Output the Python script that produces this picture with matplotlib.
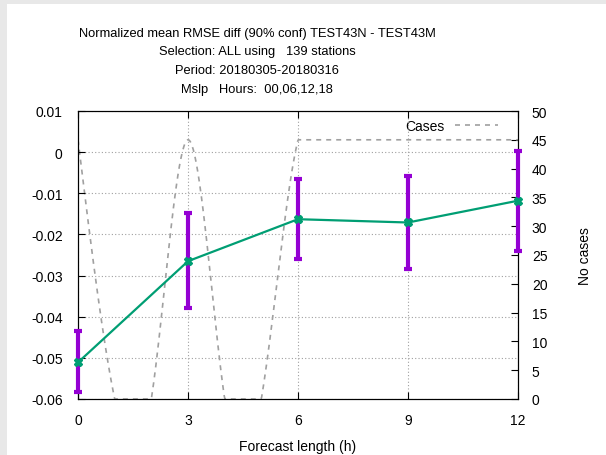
import numpy as np
import matplotlib
matplotlib.use("Agg")
import matplotlib.pyplot as plt
from matplotlib.patches import Rectangle

# forecast lengths and normalized RMSE difference with 90% confidence limits
fc_len = [0, 3, 6, 9, 12]
rmse_diff = [-0.0511, -0.0265, -0.0163, -0.0171, -0.0118]
conf_low = [-0.0584, -0.0379, -0.0260, -0.0284, -0.0240]
conf_high = [-0.0434, -0.0148, -0.0065, -0.0059, 0.0003]

# number of cases per forecast hour
case_hours = [0, 1, 2, 3, 4, 5, 6, 7, 8, 9, 10, 11, 12]
cases = [45, 0, 0, 45, 0, 0, 45, 45, 45, 45, 45, 45, 45]

title_lines = ["Normalized mean RMSE diff (90% conf) TEST43N - TEST43M",
               "Selection: ALL using   139 stations",
               "Period: 20180305-20180316",
               "Mslp   Hours:  00,06,12,18"]

PURPLE = "#9400d3"
GREEN = "#009e73"
GREY = "#a0a0a0"


def natural_spline(x, y, n=600):
    # natural cubic spline, like gnuplot's "smooth csplines";
    # segments between equal values are kept flat
    x = np.asarray(x, float)
    y = np.asarray(y, float)
    k = len(x)
    h = np.diff(x)
    A = np.zeros((k, k))
    b = np.zeros(k)
    A[0, 0] = A[-1, -1] = 1
    for i in range(1, k - 1):
        A[i, i - 1] = h[i - 1]
        A[i, i] = 2 * (h[i - 1] + h[i])
        A[i, i + 1] = h[i]
        b[i] = 6 * ((y[i + 1] - y[i]) / h[i] - (y[i] - y[i - 1]) / h[i - 1])
    m = np.linalg.solve(A, b)
    xs = np.linspace(x[0], x[-1], n)
    idx = np.clip(np.searchsorted(x, xs) - 1, 0, k - 2)
    x0, x1 = x[idx], x[idx + 1]
    hh = x1 - x0
    t0, t1 = x1 - xs, xs - x0
    ys = (m[idx] * t0 ** 3 + m[idx + 1] * t1 ** 3) / (6 * hh) \
        + (y[idx] / hh - m[idx] * hh / 6) * t0 \
        + (y[idx + 1] / hh - m[idx + 1] * hh / 6) * t1
    ys = np.where(y[idx] == y[idx + 1], y[idx], ys)
    return xs, ys


plt.rcParams['font.family'] = ['Liberation Sans', 'DejaVu Sans']
plt.rcParams['font.size'] = 10

fig = plt.figure(figsize=(6.06, 4.56), dpi=100, facecolor="#e8e8e8")
fig.patches.append(Rectangle((7 / 606, 0), 1, 1 - 5 / 456, transform=fig.transFigure,
                             facecolor="white", edgecolor="none", zorder=-10))

ax = fig.add_axes([78 / 606, 1 - 400 / 456, 440 / 606, 288 / 456])
ax.set_facecolor("none")
ax2 = ax.twinx()
ax2.set_facecolor("none")

# cases on the right axis
xs, ys = natural_spline(case_hours, cases)
ax2.plot(xs, np.clip(ys, 0, 50), color=GREY, lw=1.2, dashes=(3, 3), label="Cases")
ax2.set_ylim(0, 50)
ax2.set_yticks(np.arange(0, 51, 5))
ax2.set_ylabel("No cases", labelpad=22)
ax2.tick_params(axis='y', direction='in', length=5, pad=10)
leg = ax2.legend(loc="upper right", bbox_to_anchor=(1 - 12 / 440, 1), frameon=False,
                 markerfirst=False, handlelength=3.1, borderaxespad=0.2, handletextpad=0.7)

# rmse difference on the left axis
yerr = [np.array(rmse_diff) - np.array(conf_low), np.array(conf_high) - np.array(rmse_diff)]
ax.errorbar(fc_len, rmse_diff, yerr=yerr, fmt='none', ecolor=PURPLE, elinewidth=3,
            capsize=2.6, capthick=3, zorder=3, clip_on=False)
ax.plot(fc_len, rmse_diff, color=GREEN, lw=1.6, marker='X', ms=5.5, mfc=GREEN,
        mec=GREEN, zorder=4, clip_on=False)
ax.set_xlim(0, 12)
ax.set_ylim(-0.06, 0.01)
ax.set_xticks(fc_len)
ax.set_yticks(np.arange(-0.06, 0.011, 0.01))
ax.set_yticklabels(["-0.06", "-0.05", "-0.04", "-0.03", "-0.02", "-0.01", "0", "0.01"])
ax.tick_params(axis='y', direction='in', length=5, pad=11)
ax.tick_params(axis='x', direction='in', length=5, pad=10, top=True)
ax.grid(True, color=GREY, lw=0.8, linestyle=(0, (1, 2)))
ax.set_xlabel("Forecast length (h)", labelpad=9)
ax.set_zorder(ax2.get_zorder() + 1)

for i, line in enumerate(title_lines):
    fig.text(257 / 606, 1 - (34 + 18.5 * i) / 456, line, ha='center', va='center', fontsize=9.3)

fig.savefig("out.png", dpi=100, facecolor=fig.get_facecolor())
